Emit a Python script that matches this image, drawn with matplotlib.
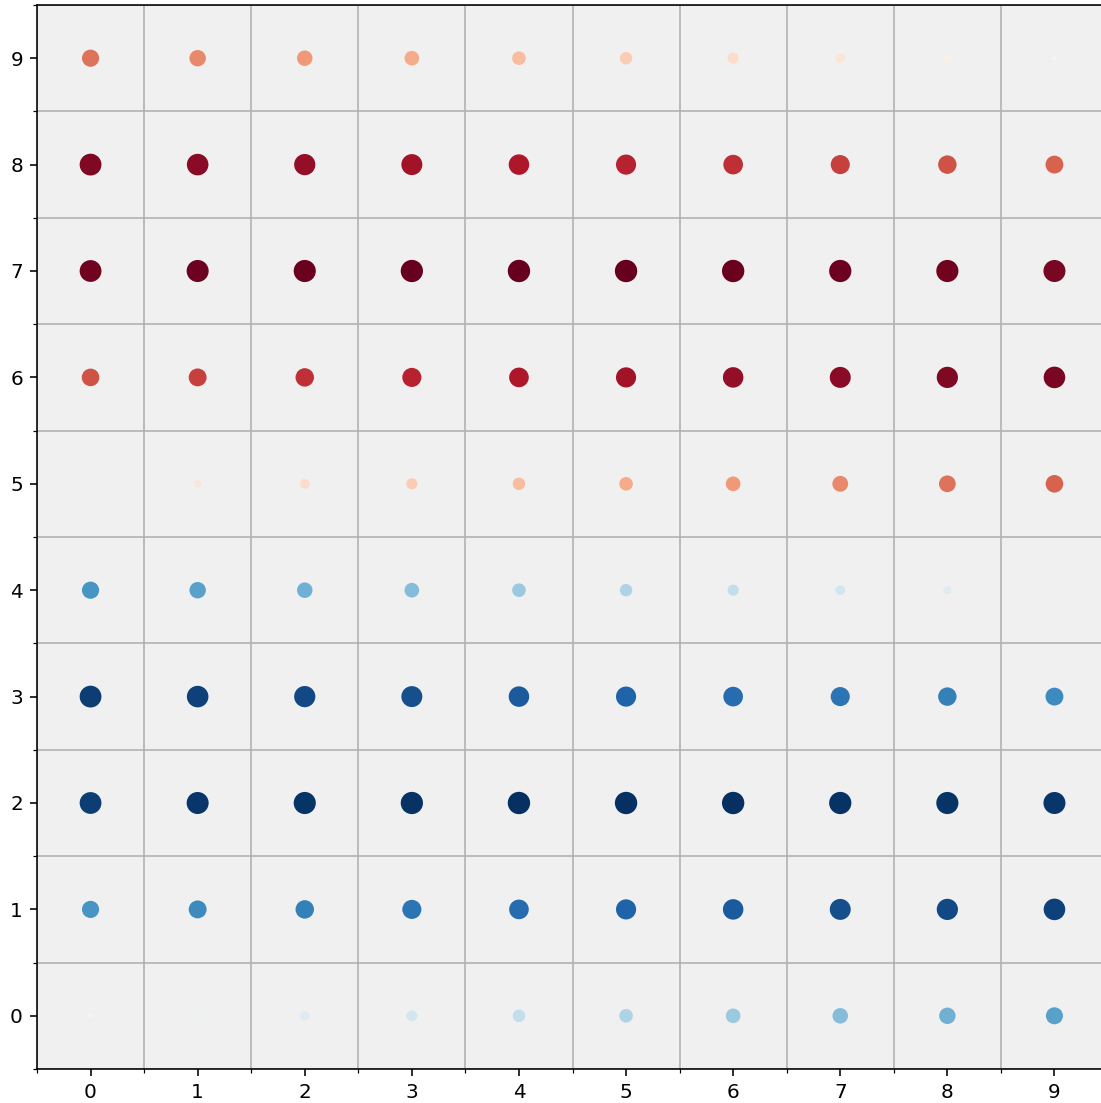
import matplotlib
matplotlib.use("Agg")
import matplotlib.pyplot as plt
import numpy as np

x_labels = [0, 1, 2, 3, 4, 5, 6, 7, 8, 9]
y_labels = [0, 1, 2, 3, 4, 5, 6, 7, 8, 9]

# marker magnitudes (area), per row y=0..9
size0 = [0.03, 0.10, 0.18, 0.24, 0.31, 0.37, 0.43, 0.48, 0.54, 0.58]
size1 = [0.59, 0.64, 0.68, 0.73, 0.77, 0.81, 0.84, 0.88, 0.90, 0.93]
size2 = [0.95, 0.97, 0.98, 0.99, 1.00, 1.00, 1.00, 0.99, 0.98, 0.97]
size3 = [0.95, 0.93, 0.90, 0.88, 0.84, 0.81, 0.77, 0.73, 0.68, 0.64]
size4 = [0.59, 0.54, 0.48, 0.43, 0.37, 0.31, 0.25, 0.19, 0.13, 0.06]
size5 = [0.03, 0.10, 0.19, 0.25, 0.31, 0.37, 0.43, 0.50, 0.56, 0.62]
size6 = [0.62, 0.64, 0.68, 0.73, 0.77, 0.81, 0.84, 0.88, 0.90, 0.93]
size7 = [0.95, 0.97, 0.98, 0.99, 1.00, 1.00, 1.00, 0.99, 0.98, 0.97]
size8 = [0.95, 0.93, 0.90, 0.88, 0.84, 0.81, 0.77, 0.73, 0.68, 0.64]
size9 = [0.59, 0.54, 0.48, 0.43, 0.37, 0.31, 0.25, 0.19, 0.12, 0.04]

# colour values, per row y=0..9
col0 = [-0.02, -0.06, -0.13, -0.19, -0.25, -0.31, -0.37, -0.43, -0.48, -0.54]
col1 = [-0.59, -0.64, -0.68, -0.73, -0.77, -0.81, -0.84, -0.88, -0.90, -0.93]
col2 = [-0.95, -0.97, -0.98, -0.99, -1.00, -1.00, -1.00, -0.99, -0.98, -0.97]
col3 = [-0.95, -0.93, -0.90, -0.88, -0.84, -0.81, -0.77, -0.73, -0.68, -0.64]
col4 = [-0.59, -0.54, -0.48, -0.43, -0.37, -0.31, -0.25, -0.19, -0.13, -0.06]
col5 = [0.05, 0.13, 0.19, 0.25, 0.31, 0.37, 0.43, 0.48, 0.54, 0.59]
col6 = [0.64, 0.68, 0.73, 0.77, 0.81, 0.84, 0.88, 0.90, 0.93, 0.95]
col7 = [0.97, 0.98, 0.99, 1.00, 1.00, 1.00, 0.99, 0.98, 0.97, 0.95]
col8 = [0.93, 0.90, 0.88, 0.84, 0.81, 0.77, 0.73, 0.68, 0.64, 0.59]
col9 = [0.54, 0.48, 0.43, 0.37, 0.31, 0.25, 0.19, 0.13, 0.06, 0.02]

sizes = np.array([size0, size1, size2, size3, size4, size5, size6, size7, size8, size9])
colors = np.array([col0, col1, col2, col3, col4, col5, col6, col7, col8, col9])
X, Y = np.meshgrid(x_labels, y_labels)

DPI = 144
fig = plt.figure(figsize=(1101 / DPI, 1103 / DPI), dpi=DPI)
W, H = 1101, 1103
ax = fig.add_axes([37 / W, (H - 1069) / H, (1108 - 37) / W, (1069 - 5) / H])
ax.set_facecolor("#f0f0f0")

ax.scatter(X.ravel(), Y.ravel(), c=colors.ravel(), s=sizes.ravel() * 125,
           cmap="RdBu_r", vmin=-1, vmax=1, edgecolors="none", zorder=3)

ax.set_xlim(-0.5, 9.5)
ax.set_ylim(-0.5, 9.5)
ax.set_xticks(x_labels)
ax.set_yticks(y_labels)
ax.set_xticks(np.arange(-0.5, 10, 1), minor=True)
ax.set_yticks(np.arange(-0.5, 10, 1), minor=True)
ax.grid(which="minor", color="#b0b0b0", linewidth=0.8)
ax.grid(which="major", visible=False)
ax.spines["right"].set_visible(False)

fig.savefig("out.png", dpi=DPI)
